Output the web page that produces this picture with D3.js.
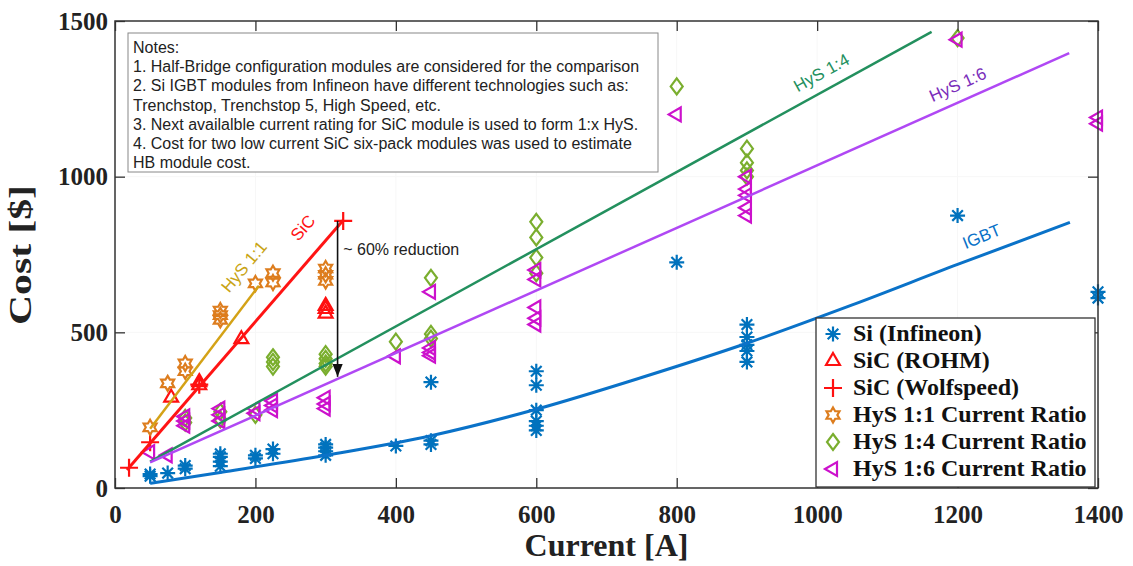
<!DOCTYPE html>
<html>
<head>
<meta charset="utf-8">
<script src="https://cdn.jsdelivr.net/npm/d3@7"></script>
<style>
body { margin: 0; background: #fff; }
svg { display: block; }
</style>
</head>
<body>
<script>

// data: [current A, cost $]
const siInfineon = [[50,45],[50,38],[75,48],[100,62],[100,72],[150,70],[150,85],[150,100],[150,110],
  [200,95],[200,105],[225,110],[225,125],[300,105],[300,118],[300,130],[300,140],[400,135],
  [450,140],[450,152],[450,340],[600,185],[600,200],[600,215],[600,250],[600,330],[600,375],
  [800,725],[900,405],[900,440],[900,460],[900,485],[900,525],[1200,875],[1400,610],[1400,630]];
const sicRohm = [[80,290],[120,330],[120,340],[180,478],[300,560],[300,575],[300,585]];
const sicWolfspeed = [[20,65],[50,147],[120,332],[325,858]];
const hys11 = [[50,195],[75,336],[100,375],[100,400],[150,540],[150,555],[150,570],[200,657],
  [225,660],[225,690],[300,665],[300,685],[300,705]];
const hys14 = [[100,210],[100,225],[150,220],[150,245],[200,235],[225,390],[225,405],[225,420],
  [300,390],[300,400],[300,415],[300,430],[400,470],[450,480],[450,495],[450,675],[600,690],
  [600,740],[600,805],[600,855],[800,1290],[900,1000],[900,1020],[900,1045],[900,1090],[1200,1445]];
const hys16 = [[50,115],[75,105],[100,200],[100,215],[100,230],[150,215],[150,235],[150,255],
  [200,240],[200,255],[225,250],[225,265],[225,280],[300,255],[300,270],[300,290],[400,423],
  [450,425],[450,435],[450,450],[450,630],[600,525],[600,545],[600,580],[600,670],[600,700],
  [800,1200],[900,875],[900,900],[900,940],[900,960],[900,1000],[1200,1440],[1400,1170],[1400,1190]];

// fitted trend lines
const fitIgbt = [[50,15],[150,50],[300,105],[450,168],[600,253],[750,355],[900,465],[1050,588],[1200,718],[1360,853]];
const fitSic = [[17,58],[325,860]];
const fitHys11 = [[50,190],[205,650]];
const fitHys14 = [[50,85],[1163,1465]];
const fitHys16 = [[50,82],[1359,1397]];

const xTicks = [0,200,400,600,800,1000,1200,1400];
const yTicks = [0,500,1000,1500];

const legendLabels = ["Si (Infineon)","SiC (ROHM)","SiC (Wolfspeed)","HyS 1:1 Current Ratio",
  "HyS 1:4 Current Ratio","HyS 1:6 Current Ratio"];

const notes = ["Notes:",
  "1. Half-Bridge configuration modules are considered for the comparison",
  "2. Si IGBT modules from Infineon have different technologies such as:",
  "Trenchstop, Trenchstop 5, High Speed, etc.",
  "3. Next availalble current rating for SiC module is used to form 1:x HyS.",
  "4. Cost for two low current SiC six-pack modules was used to estimate",
  "HB module cost."];

const W = 1133, H = 566;
let plot = {left: 115, right: 1098, top: 21, bottom: 488};

const svg = d3.select("body").append("svg")
  .attr("width", W).attr("height", H);

svg.append("rect").attr("width", W).attr("height", H).attr("fill", "#fff");

const x = d3.scaleLinear().domain([0,1400]).range([plot.left, plot.right]);
const y = d3.scaleLinear().domain([0,1500]).range([plot.bottom, plot.top]);

// very faint grid
svg.append("g").selectAll("line").data(xTicks.slice(1,-1)).enter().append("line")
  .attr("x1", d => x(d)).attr("x2", d => x(d))
  .attr("y1", plot.top).attr("y2", plot.bottom)
  .attr("stroke", "#f7f7f7");
svg.append("g").selectAll("line").data(yTicks.slice(1,-1)).enter().append("line")
  .attr("x1", plot.left).attr("x2", plot.right)
  .attr("y1", d => y(d)).attr("y2", d => y(d))
  .attr("stroke", "#f7f7f7");

// marker shapes (local coords)
function asterisk(r) {
  let p = "";
  [0,45,90,135].forEach(function(a) {
    let t = a * Math.PI / 180, dx = r * Math.cos(t), dy = r * Math.sin(t);
    p += "M" + (-dx) + "," + (-dy) + "L" + dx + "," + dy;
  });
  return p;
}
function polygon(n, r, rot, ry) {
  ry = ry || r;
  let pts = d3.range(n).map(function(i) {
    let t = rot + i * 2 * Math.PI / n;
    return [r * Math.cos(t), ry * Math.sin(t)];
  });
  return "M" + pts.join("L") + "Z";
}
function hexagram(r) {
  let pts = d3.range(12).map(function(i) {
    let t = -Math.PI / 2 + i * Math.PI / 6, rr = i % 2 ? r * 0.58 : r;
    return [rr * Math.cos(t), rr * Math.sin(t)];
  });
  return "M" + pts.join("L") + "Z";
}
const shapes = {
  ast: asterisk(7.5),
  up: polygon(3, 8, -Math.PI / 2),
  plus: "M-9,0L9,0M0,-9L0,9",
  hex: hexagram(7.5),
  dia: "M0,-8L6,0L0,8L-6,0Z",
  left: polygon(3, 8, Math.PI)
};

const series = [
  {data: siInfineon, shape: "ast", color: "#0072BD"},
  {data: sicRohm, shape: "up", color: "#FF1010"},
  {data: sicWolfspeed, shape: "plus", color: "#FF1010"},
  {data: hys11, shape: "hex", color: "#DD7D1E"},
  {data: hys14, shape: "dia", color: "#7AAE2E"},
  {data: hys16, shape: "left", color: "#CC11CC"}
];

series.forEach(function(s) {
  svg.append("g").selectAll("path").data(s.data).enter().append("path")
    .attr("transform", d => "translate(" + x(d[0]) + "," + y(d[1]) + ")")
    .attr("d", shapes[s.shape])
    .attr("fill", "none")
    .attr("stroke", s.color)
    .attr("stroke-width", 2.2);
});

// trend lines
const line = d3.line().x(d => x(d[0])).y(d => y(d[1]));
const fits = [
  {data: fitIgbt, color: "#0A72C8", w: 3, curve: d3.curveMonotoneX},
  {data: fitHys14, color: "#23905E", w: 2.5},
  {data: fitHys16, color: "#B048F4", w: 2.5},
  {data: fitHys11, color: "#D4A216", w: 2.5},
  {data: fitSic, color: "#FF1414", w: 3}
];
fits.forEach(function(f) {
  svg.append("path").datum(f.data)
    .attr("d", line.curve(f.curve || d3.curveLinear))
    .attr("fill", "none")
    .attr("stroke", f.color)
    .attr("stroke-width", f.w);
});

// rotated line labels
const lineLabels = [
  {text: "HyS 1:1", at: [185,708], rot: -50, color: "#C9A414"},
  {text: "SiC", at: [269,833], rot: -49, color: "#FF1414"},
  {text: "HyS 1:4", at: [1007,1330], rot: -29, color: "#23905E"},
  {text: "HyS 1:6", at: [1201,1292], rot: -24, color: "#7A2DBA"},
  {text: "IGBT", at: [1235,804], rot: -22, color: "#0A72C8"}
];
svg.append("g").selectAll("text").data(lineLabels).enter().append("text")
  .attr("transform", d => "translate(" + x(d.at[0]) + "," + y(d.at[1]) + ") rotate(" + d.rot + ")")
  .attr("text-anchor", "middle")
  .attr("dominant-baseline", "middle")
  .attr("font-family", "Liberation Sans, Arial, sans-serif")
  .attr("font-size", 17)
  .attr("fill", d => d.color)
  .text(d => d.text);

// ~60% reduction arrow
svg.append("defs").append("marker")
  .attr("id", "arrow").attr("viewBox", "0 0 10 10")
  .attr("refX", 10).attr("refY", 5)
  .attr("markerWidth", 8).attr("markerHeight", 8)
  .attr("orient", "auto")
  .append("path").attr("d", "M0,1L10,5L0,9Z").attr("fill", "#111");
svg.append("line")
  .attr("x1", x(317)).attr("x2", x(317))
  .attr("y1", y(858)).attr("y2", y(357))
  .attr("stroke", "#111").attr("stroke-width", 1.6)
  .attr("marker-end", "url(#arrow)");
svg.append("text")
  .attr("x", x(325)).attr("y", y(763))
  .attr("dominant-baseline", "middle")
  .attr("font-family", "Liberation Sans, Arial, sans-serif")
  .attr("font-size", 16)
  .attr("fill", "#222")
  .text("~ 60% reduction");

// notes box
let notesG = svg.append("g");
notesG.append("rect")
  .attr("x", 128).attr("y", 33).attr("width", 530).attr("height", 139)
  .attr("fill", "#fff").attr("stroke", "#888").attr("stroke-width", 1);
notesG.selectAll("text").data(notes).enter().append("text")
  .attr("x", 133)
  .attr("y", (d, i) => 53 + i * 19.2)
  .attr("font-family", "Liberation Sans, Arial, sans-serif")
  .attr("font-size", 16)
  .attr("fill", "#222")
  .text(d => d);

// axes: inward ticks on all four sides
function styleAxis(g) {
  g.select(".domain").remove();
  g.selectAll(".tick line").attr("stroke", "#333").attr("stroke-width", 1.3);
  g.selectAll(".tick text")
    .attr("font-family", "Liberation Serif, Times New Roman, serif")
    .attr("font-weight", "bold")
    .attr("font-size", 25)
    .attr("fill", "#222");
}
svg.append("g").attr("transform", "translate(0," + plot.bottom + ")")
  .call(d3.axisBottom(x).tickValues(xTicks).tickFormat(d3.format("d")).tickSize(-10).tickPadding(17))
  .call(styleAxis);
svg.append("g").attr("transform", "translate(" + plot.left + ",0)")
  .call(d3.axisLeft(y).tickValues(yTicks).tickFormat(d3.format("d")).tickSize(-10).tickPadding(7))
  .call(styleAxis);
svg.append("g").attr("transform", "translate(0," + plot.top + ")")
  .call(d3.axisTop(x).tickValues(xTicks).tickSize(-10).tickFormat("")).call(styleAxis);
svg.append("g").attr("transform", "translate(" + plot.right + ",0)")
  .call(d3.axisRight(y).tickValues(yTicks).tickSize(-10).tickFormat("")).call(styleAxis);

svg.append("rect")
  .attr("x", plot.left).attr("y", plot.top)
  .attr("width", plot.right - plot.left).attr("height", plot.bottom - plot.top)
  .attr("fill", "none").attr("stroke", "#333").attr("stroke-width", 1.5);

// legend
let leg = svg.append("g");
leg.append("rect")
  .attr("x", 816).attr("y", 318).attr("width", 279).attr("height", 169)
  .attr("fill", "#fff").attr("stroke", "#333").attr("stroke-width", 1.3);
let items = leg.selectAll("g.item").data(series).enter().append("g")
  .attr("class", "item")
  .attr("transform", (d, i) => "translate(833," + (334 + i * 27) + ")");
items.append("path")
  .attr("d", d => shapes[d.shape])
  .attr("fill", "none").attr("stroke", d => d.color).attr("stroke-width", 2.2);
items.append("text")
  .attr("x", 20)
  .attr("dominant-baseline", "middle")
  .attr("dy", "0.05em")
  .attr("font-family", "Liberation Serif, Times New Roman, serif")
  .attr("font-weight", "bold")
  .attr("font-size", 24)
  .attr("fill", "#111")
  .text((d, i) => legendLabels[i]);

// axis titles
svg.append("text")
  .attr("x", (plot.left + plot.right) / 2).attr("y", 556)
  .attr("text-anchor", "middle")
  .attr("font-family", "Liberation Serif, Times New Roman, serif")
  .attr("font-weight", "bold")
  .attr("font-size", 32)
  .attr("fill", "#222")
  .text("Current [A]");
svg.append("text")
  .attr("transform", "translate(31,255) rotate(-90)")
  .attr("text-anchor", "middle")
  .attr("font-family", "Liberation Serif, Times New Roman, serif")
  .attr("font-weight", "bold")
  .attr("font-size", 31)
  .attr("textLength", 140)
  .attr("lengthAdjust", "spacingAndGlyphs")
  .attr("fill", "#222")
  .text("Cost [$]");

</script>
</body>
</html>
